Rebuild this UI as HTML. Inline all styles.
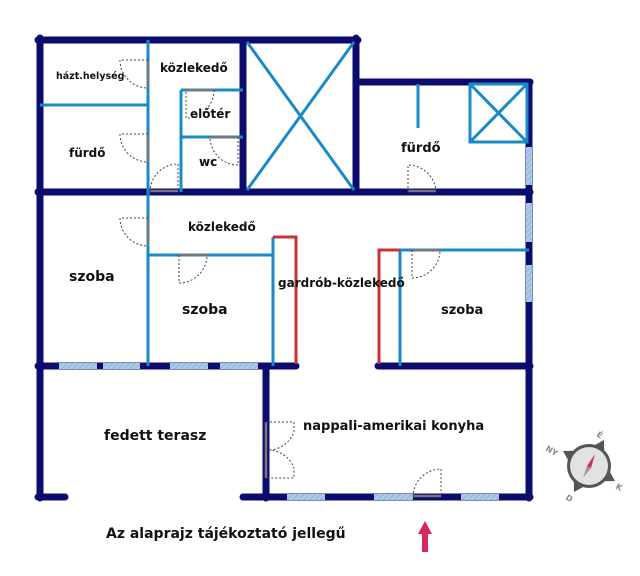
<!DOCTYPE html>
<html><head><meta charset="utf-8"><style>
html,body{margin:0;padding:0;background:#fff;}
svg{display:block;}
text{font-family:"DejaVu Sans","Liberation Sans",sans-serif;font-weight:bold;fill:#111;}
</style></head><body>
<svg width="640" height="576" viewBox="0 0 640 576" xmlns="http://www.w3.org/2000/svg">
<defs>
<pattern id="hatch" width="4" height="4" patternUnits="userSpaceOnUse" patternTransform="rotate(45)">
<rect width="4" height="4" fill="#a9cbe6"/><line x1="0" y1="0" x2="0" y2="4" stroke="#7fb0da" stroke-width="1.5"/>
</pattern>
</defs>
<g stroke="#0c0c6e" stroke-width="7" stroke-linecap="round" fill="none">
<line x1="38" y1="40" x2="358" y2="40"/>
<line x1="40" y1="38" x2="40" y2="498"/>
<line x1="356" y1="38" x2="356" y2="192"/>
<line x1="243" y1="40" x2="243" y2="190"/>
<line x1="38" y1="192" x2="530" y2="192"/>
<line x1="358" y1="82" x2="530" y2="82"/>
<line x1="529" y1="82" x2="529" y2="498"/>
<line x1="38" y1="366" x2="296" y2="366"/>
<line x1="378" y1="366" x2="530" y2="366"/>
<line x1="266" y1="366" x2="266" y2="498"/>
<line x1="38" y1="497" x2="65" y2="497"/>
<line x1="243" y1="497" x2="530" y2="497"/>
</g>
<g fill="url(#hatch)">
<rect x="59" y="363" width="38" height="6"/><rect x="103" y="363" width="37" height="6"/>
<rect x="170" y="363" width="38" height="6"/><rect x="220" y="363" width="38" height="6"/>
<rect x="287" y="494" width="38" height="6"/><rect x="374" y="494" width="39" height="6"/>
<rect x="461" y="494" width="38" height="6"/>
<rect x="526" y="147" width="6" height="38"/><rect x="526" y="203" width="6" height="39"/>
<rect x="526" y="265" width="6" height="37"/>
</g>
<g stroke="#1a8ac6" stroke-width="3" fill="none">
<line x1="148" y1="40" x2="148" y2="366"/>
<line x1="40" y1="105" x2="148" y2="105"/>
<line x1="181" y1="90" x2="181" y2="192"/>
<line x1="181" y1="90" x2="243" y2="90"/>
<line x1="181" y1="137" x2="243" y2="137"/>
<line x1="247" y1="42" x2="354" y2="190"/>
<line x1="354" y1="42" x2="247" y2="190"/>
<line x1="418" y1="84" x2="418" y2="128"/>
<rect x="470" y="84" width="57" height="58"/>
<line x1="470" y1="84" x2="527" y2="142"/>
<line x1="527" y1="84" x2="470" y2="142"/>
<line x1="148" y1="255" x2="273" y2="255"/>
<line x1="273" y1="237" x2="273" y2="366"/>
<line x1="400" y1="250" x2="400" y2="366"/>
<line x1="400" y1="250" x2="529" y2="250"/>
</g>
<g stroke="#c83232" stroke-width="3" fill="none">
<polyline points="273,237 296,237 296,364"/>
<polyline points="400,250 379,250 379,364"/>
</g>
<g stroke="#777" stroke-width="2.5" fill="none">
<line x1="148" y1="60" x2="148" y2="88"/>
<line x1="148" y1="134" x2="148" y2="162"/>
<line x1="150" y1="191" x2="178" y2="191"/>
<line x1="186" y1="90" x2="214" y2="90"/>
<line x1="210" y1="137" x2="238" y2="137"/>
<line x1="408" y1="191" x2="436" y2="191"/>
<line x1="148" y1="218" x2="148" y2="246"/>
<line x1="179" y1="255" x2="207" y2="255"/>
<line x1="412" y1="250" x2="440" y2="250"/>
<line x1="266" y1="422" x2="266" y2="478"/>
<line x1="413" y1="496" x2="441" y2="496"/>
</g>
<g stroke="#444" stroke-width="1" stroke-dasharray="2,2" fill="none">
<path d="M148,60 L120,60 A28,28 0 0 0 148,88"/>
<path d="M148,134 L120,134 A28,28 0 0 0 148,162"/>
<path d="M150,192 A28,28 0 0 1 178,164 L178,192"/>
<path d="M214,90 A28,28 0 0 1 186,118 L186,90"/>
<path d="M238,137 L238,165 A28,28 0 0 1 210,137"/>
<path d="M408,192 L408,165 A28,28 0 0 1 436,192"/>
<path d="M148,218 L120,218 A28,28 0 0 0 148,246"/>
<path d="M179,255 L179,283 A28,28 0 0 0 207,255"/>
<path d="M412,250 L412,278 A28,28 0 0 0 440,250"/>
<path d="M266,422 L294,422 L294,432 A28,28 0 0 1 266,450 A28,28 0 0 1 294,468 L294,478 L266,478"/>
<path d="M413,497 A28,28 0 0 1 441,469 L441,497"/>
</g>
<text x="56" y="79" font-size="9.5">házt.helység</text>
<text x="160" y="72" font-size="12">közlekedő</text>
<text x="190" y="118" font-size="12">előtér</text>
<text x="69" y="157" font-size="12">fürdő</text>
<text x="199" y="166" font-size="12">wc</text>
<text x="401" y="152" font-size="13">fürdő</text>
<text x="188" y="231" font-size="12">közlekedő</text>
<text x="69" y="281" font-size="14">szoba</text>
<text x="182" y="314" font-size="14">szoba</text>
<text x="278" y="287" font-size="12">gardrób-közlekedő</text>
<text x="441" y="314" font-size="13">szoba</text>
<text x="104" y="440" font-size="14">fedett terasz</text>
<text x="303" y="430" font-size="13">nappali-amerikai konyha</text>
<text x="106" y="538" font-size="14">Az alaprajz tájékoztató jellegű</text>
<path d="M425,521 L432,534 L428,534 L428,552 L422,552 L422,534 L418,534 Z" fill="#d6285a"/>
<g transform="translate(589,466)">
<polygon points="0,-30 6,-20 -6,-20" fill="#555" transform="rotate(30)"/>
<polygon points="0,-30 6,-20 -6,-20" fill="#555" transform="rotate(120)"/>
<polygon points="0,-30 6,-20 -6,-20" fill="#555" transform="rotate(210)"/>
<polygon points="0,-30 6,-20 -6,-20" fill="#555" transform="rotate(300)"/>
<circle r="22" fill="#555"/><circle r="19" fill="#e2e2e2"/>
<polygon points="6,-12 2,2 -2,0" fill="#d6285a"/>
<polygon points="-6,12 2,2 -2,0" fill="#999"/>
<text x="0" y="0" font-size="8" style="fill:#888" transform="translate(7,-30) rotate(30)">É</text>
<text x="0" y="0" font-size="8" style="fill:#888" transform="translate(-44,-16) rotate(30)">NY</text>
<text x="0" y="0" font-size="8" style="fill:#888" transform="translate(26,22) rotate(30)">K</text>
<text x="0" y="0" font-size="8" style="fill:#888" transform="translate(-24,33) rotate(30)">D</text>
</g>
</svg>
</body></html>
